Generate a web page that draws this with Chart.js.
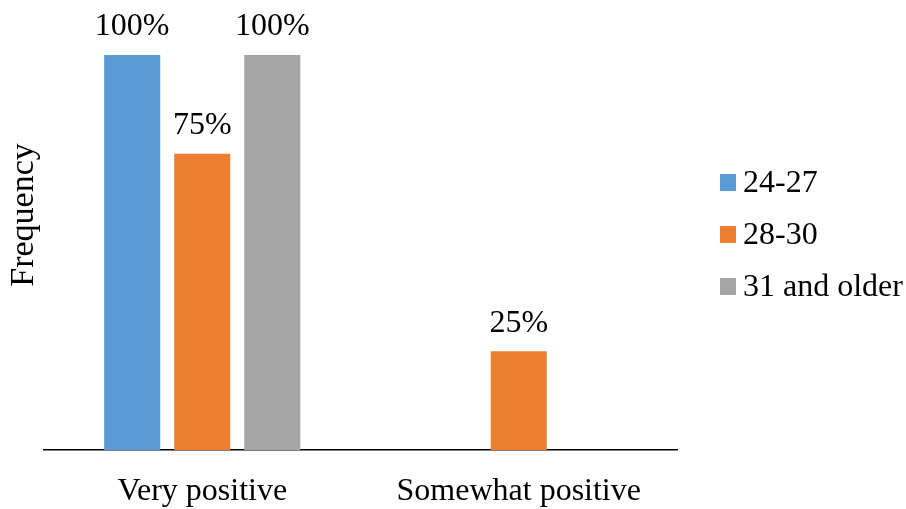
<!DOCTYPE html>
<html>
<head>
<meta charset="utf-8">
<script src="https://cdn.jsdelivr.net/npm/chart.js@4/dist/chart.umd.min.js"></script>
<style>
  html, body { margin: 0; padding: 0; background: #fff; }
  #wrap { position: relative; width: 906px; height: 509px; }
</style>
</head>
<body>
<div id="wrap"><canvas id="chart" width="906" height="509"></canvas></div>
<script>
// ===== Data =====
const categories = ['Very positive', 'Somewhat positive'];
const seriesNames = ['24-27', '28-30', '31 and older'];
const seriesColors = ['#5B9BD5', '#ED7D31', '#A5A5A5'];
const values2427 = [100, 0];
const values2830 = [75, 25];
const values31up = [100, 0];
const yAxisTitle = 'Frequency';

const fontFamily = "'Liberation Serif', 'Times New Roman', serif";
const fontSize = 32;

// data labels above bars (skip zeros)
const barLabels = {
  id: 'barLabels',
  afterDatasetsDraw(chart) {
    const ctx = chart.ctx;
    ctx.save();
    ctx.font = fontSize + 'px ' + fontFamily;
    ctx.fillStyle = '#000';
    ctx.textAlign = 'center';
    ctx.textBaseline = 'middle';
    chart.data.datasets.forEach((ds, i) => {
      chart.getDatasetMeta(i).data.forEach((bar, j) => {
        if (!ds.data[j]) return;
        ctx.fillText(ds.data[j] + '%', bar.x, bar.y - 28);
      });
    });
    ctx.restore();
  }
};

// legend on the right + rotated y title
const sideBits = {
  id: 'sideBits',
  afterDraw(chart) {
    const ctx = chart.ctx;
    ctx.save();
    ctx.font = fontSize + 'px ' + fontFamily;
    ctx.textBaseline = 'middle';
    chart.data.datasets.forEach((ds, i) => {
      const y = 183 + i * 52;
      ctx.fillStyle = ds.backgroundColor;
      ctx.fillRect(720, y - 9, 16, 17);
      ctx.fillStyle = '#000';
      ctx.textAlign = 'left';
      ctx.fillText(ds.label, 743, y + 1);
    });
    ctx.font = '34px ' + fontFamily;
    ctx.translate(24, 215);
    ctx.rotate(-Math.PI / 2);
    ctx.textAlign = 'center';
    ctx.fillText(yAxisTitle, 0, 0);
    ctx.restore();
  }
};

const valueSets = [values2427, values2830, values31up];

new Chart(document.getElementById('chart'), {
  type: 'bar',
  data: {
    labels: categories,
    datasets: seriesNames.map((name, i) => ({
      label: name,
      data: valueSets[i],
      backgroundColor: seriesColors[i],
      categoryPercentage: 0.664,
      barPercentage: 0.8,
    })),
  },
  options: {
    responsive: false,
    animation: false,
    layout: { padding: { left: 44, right: 229, top: 55, bottom: 0 } },
    plugins: {
      legend: { display: false },
      tooltip: { enabled: false },
    },
    scales: {
      x: {
        grid: { display: false, drawTicks: false },
        border: { display: true, color: '#000', width: 1.5 },
        ticks: {
          color: '#000',
          padding: 22,
          font: { family: fontFamily, size: fontSize },
          maxRotation: 0,
        },
        afterFit: scale => { scale.height = 59; },
      },
      y: {
        display: false,
        min: 0,
        max: 100,
      },
    },
  },
  plugins: [barLabels, sideBits],
});
</script>
</body>
</html>
